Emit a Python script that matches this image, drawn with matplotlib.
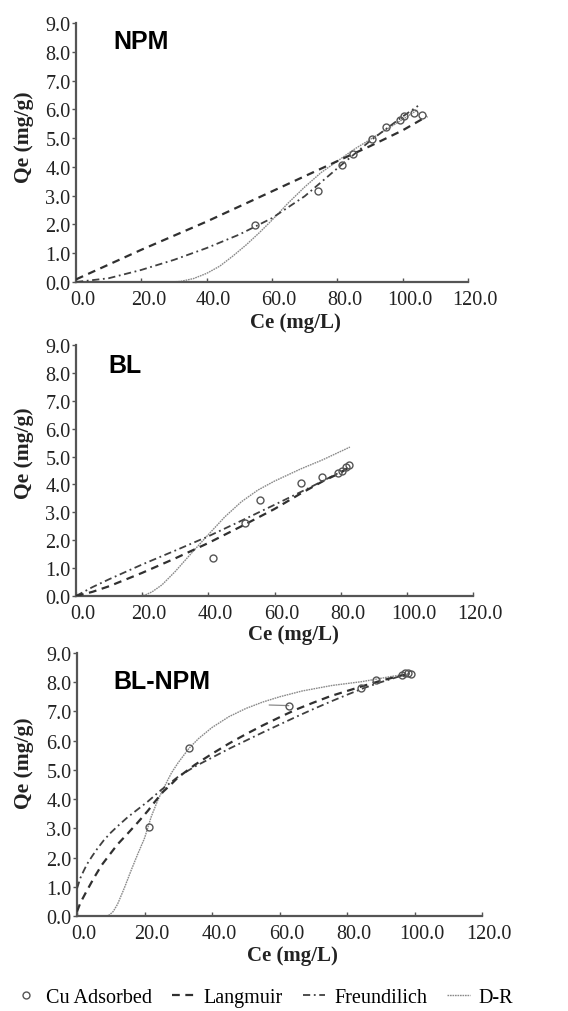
import matplotlib
matplotlib.use("Agg")
import matplotlib.pyplot as plt
from matplotlib.lines import Line2D
from matplotlib.transforms import ScaledTranslation

####################################################################################################
# Values (Ce in mg/L, Qe in mg/g)
####################################################################################################
# NPM
npm_ce = [54.8, 74.1, 81.4, 84.8, 90.5, 94.8, 99.3, 100.5, 103.6, 106.0]
npm_qe = [1.97, 3.16, 4.06, 4.44, 4.97, 5.38, 5.62, 5.78, 5.87, 5.80]
npm_lang_ce = [0.0, 20.0, 40.0, 60.0, 80.0, 90.0, 100.0, 107.5]
npm_lang_qe = [0.09, 1.12, 2.10, 3.15, 4.20, 4.72, 5.27, 5.76]
npm_freu_ce = [0.0, 10.0, 20.0, 30.0, 40.0, 50.0, 60.0, 70.0, 80.0, 90.0, 100.0, 104.7]
npm_freu_qe = [0.0, 0.13, 0.42, 0.77, 1.18, 1.65, 2.22, 2.98, 3.95, 4.90, 5.75, 6.12]
npm_dr_ce = [29.0, 32.0, 36.0, 40.0, 44.0, 48.0, 52.0, 56.0, 60.0, 65.0, 70.0, 75.0, 80.0, 85.0, 90.0, 95.0, 100.0, 104.5]
npm_dr_qe = [0.0, 0.02, 0.12, 0.30, 0.55, 0.90, 1.28, 1.70, 2.15, 2.75, 3.30, 3.80, 4.20, 4.60, 4.95, 5.30, 5.65, 5.98]

# BL
bl_ce = [41.3, 51.0, 55.7, 68.1, 74.3, 79.2, 80.3, 81.6, 82.5]
bl_qe = [1.35, 2.61, 3.45, 4.06, 4.25, 4.42, 4.50, 4.62, 4.70]
bl_lang_ce = [0.0, 5.0, 10.0, 20.0, 30.0, 40.0, 50.0, 60.0, 68.0, 75.0, 80.0, 82.8]
bl_lang_qe = [0.0, 0.15, 0.35, 0.83, 1.35, 1.90, 2.50, 3.12, 3.68, 4.14, 4.42, 4.64]
bl_freu_ce = [0.0, 5.0, 10.0, 20.0, 30.0, 40.0, 50.0, 60.0, 70.0, 80.0, 82.6]
bl_freu_qe = [0.0, 0.32, 0.60, 1.13, 1.63, 2.14, 2.70, 3.27, 3.85, 4.45, 4.60]
bl_dr_ce = [19.5, 21.0, 23.0, 26.0, 30.0, 35.0, 40.0, 45.0, 50.0, 55.0, 60.0, 68.0, 74.5, 82.8]
bl_dr_qe = [0.0, 0.04, 0.15, 0.40, 0.88, 1.55, 2.20, 2.84, 3.38, 3.80, 4.12, 4.56, 4.88, 5.34]

# BL-NPM
blnpm_ce = [21.2, 33.2, 62.7, 84.0, 88.5, 96.2, 97.2, 98.2, 99.0]
blnpm_qe = [3.06, 5.74, 7.19, 7.79, 8.08, 8.25, 8.30, 8.32, 8.29]
blnpm_lang_ce = [0.0, 1.0, 2.7, 5.0, 7.3, 10.0, 12.0, 15.0, 18.0, 21.0, 23.0, 25.5, 28.0, 30.0, 35.0,
                 40.0, 45.0, 50.0, 55.0, 60.0, 65.0, 70.0, 75.0, 80.0, 85.0, 90.0, 95.0, 98.6]
blnpm_lang_qe = [0.15, 0.45, 0.82, 1.30, 1.74, 2.15, 2.45, 2.82, 3.20, 3.60, 3.90, 4.25, 4.52, 4.75, 5.18,
                 5.55, 5.90, 6.22, 6.52, 6.80, 7.07, 7.30, 7.52, 7.70, 7.88, 8.05, 8.20, 8.30]
blnpm_freu_ce = [0.0, 1.0, 2.0, 3.0, 4.5, 6.0, 8.0, 10.0, 12.0, 15.0, 18.0, 21.0, 25.0, 30.0, 35.0,
                 40.0, 45.0, 50.0, 55.0, 60.0, 65.0, 70.0, 75.0, 80.0, 85.0, 90.0, 95.0, 98.6]
blnpm_freu_qe = [0.94, 1.30, 1.55, 1.78, 2.05, 2.30, 2.60, 2.85, 3.07, 3.38, 3.65, 3.92, 4.32, 4.77, 5.12,
                 5.42, 5.72, 6.00, 6.28, 6.55, 6.82, 7.08, 7.33, 7.57, 7.80, 8.00, 8.18, 8.30]
blnpm_dr_ce = [8.6, 9.5, 10.7, 12.0, 14.0, 16.0, 18.0, 20.0, 22.0, 24.0, 26.0, 28.0, 30.0, 33.2, 36.0,
               40.0, 45.0, 50.0, 55.0, 60.0, 66.7, 75.6, 84.4, 93.3, 98.6]
blnpm_dr_qe = [0.0, 0.03, 0.15, 0.40, 0.95, 1.55, 2.12, 2.66, 3.40, 3.98, 4.45, 4.90, 5.25, 5.74, 6.07,
               6.45, 6.82, 7.10, 7.32, 7.50, 7.70, 7.89, 8.02, 8.20, 8.29]
blnpm_bar_ce = [57.0, 62.7]
blnpm_bar_qe = [7.22, 7.20]

x_ticks = [0, 20, 40, 60, 80, 100, 120]
y_ticks = [0, 1, 2, 3, 4, 5, 6, 7, 8, 9]

SERIF = ['Liberation Serif', 'DejaVu Serif']
SANS = ['Liberation Sans', 'DejaVu Sans']
GREY = '#555555'

####################################################################################################
fig = plt.figure(figsize=(5.68, 10.12), dpi=100)


def draw_panel(rect, ce, qe, lang, freu, dr, title, title_xy, xlab_xy, ylab_xy):
    ax = fig.add_axes(rect)
    ax.plot(dr[0], dr[1], color='#8a8a8a', lw=1.0, linestyle=(0, (1.2, 0.6)), zorder=2)
    ax.plot(freu[0], freu[1], color='#404040', lw=1.3, linestyle=(0, (4, 2, 1, 2)), zorder=3)
    ax.plot(lang[0], lang[1], color='#303030', lw=1.6, linestyle=(0, (3.5, 2.5)), zorder=3)
    ax.plot(ce, qe, 'o', ms=5, mfc='none', mec=GREY, mew=1.0, zorder=4)

    ax.set_xlim(0, 120)
    ax.set_ylim(0, 9)
    ax.set_xticks(x_ticks, labels=['%.1f' % v for v in x_ticks])
    ax.set_yticks(y_ticks, labels=['%.1f' % v for v in y_ticks])
    for s in ['top', 'right']:
        ax.spines[s].set_visible(False)
    for s in ['left', 'bottom']:
        ax.spines[s].set_color(GREY)
        ax.spines[s].set_linewidth(1.6)
    ax.tick_params(axis='y', direction='out', length=3, width=1, color=GREY, pad=1,
                   labelsize=14.5, labelcolor='#222222')
    ax.tick_params(axis='x', direction='in', length=3, width=1, color=GREY, pad=6,
                   labelsize=14.5, labelcolor='#222222')
    for lbl in ax.get_xticklabels() + ax.get_yticklabels():
        lbl.set_family(SERIF)
    for lbl in ax.get_xticklabels():
        lbl.set_transform(lbl.get_transform() + ScaledTranslation(0.07, 0, fig.dpi_scale_trans))

    ax.set_xlabel('Ce (mg/L)', family=SERIF, fontweight='bold', fontsize=15, color='#222222')
    ax.set_ylabel('Qe (mg/g)', family=SERIF, fontweight='bold', fontsize=15.5, color='#222222')
    ax.xaxis.set_label_coords(*xlab_xy)
    ax.yaxis.set_label_coords(*ylab_xy)
    ax.text(title_xy[0], title_xy[1], title, family=SANS, fontweight='bold', fontsize=18,
            ha='left', va='center', color='black')
    return ax


draw_panel([76 / 568, 1 - 283 / 1012, 392 / 568, 259 / 1012],
           npm_ce, npm_qe, (npm_lang_ce, npm_lang_qe), (npm_freu_ce, npm_freu_qe),
           (npm_dr_ce, npm_dr_qe), 'NPM', (11.3, 8.37), (0.56, -0.114), (-0.107, 0.564))

draw_panel([76 / 568, 1 - 597 / 1012, 397 / 568, 251 / 1012],
           bl_ce, bl_qe, (bl_lang_ce, bl_lang_qe), (bl_freu_ce, bl_freu_qe),
           (bl_dr_ce, bl_dr_qe), 'BL', (9.7, 8.3), (0.547, -0.11), (-0.106, 0.574))

ax3 = draw_panel([77 / 568, 1 - 917 / 1012, 405 / 568, 263 / 1012],
                 blnpm_ce, blnpm_qe, (blnpm_lang_ce, blnpm_lang_qe), (blnpm_freu_ce, blnpm_freu_qe),
                 (blnpm_dr_ce, blnpm_dr_qe), 'BL-NPM', (10.7, 8.05), (0.533, -0.11), (-0.106, 0.586))
ax3.plot(blnpm_bar_ce, blnpm_bar_qe, color='#8a8a8a', lw=0.9, zorder=3)

# Legend along the bottom
handles = [
    Line2D([], [], marker='o', ls='none', ms=5, mfc='none', mec=GREY, mew=1.0),
    Line2D([], [], color='#303030', lw=1.6, linestyle=(0, (3.5, 2.5))),
    Line2D([], [], color='#404040', lw=1.3, linestyle=(0, (4, 2, 1, 2))),
    Line2D([], [], color='#8a8a8a', lw=1.0, linestyle=(0, (1.2, 0.6))),
]
labels = ['Cu Adsorbed', 'Langmuir', 'Freundilich', 'D-R']
fig.legend(handles, labels, loc='center', bbox_to_anchor=(0.465, 0.013), ncol=4,
           frameon=False, handlelength=1.1, handletextpad=0.45, columnspacing=1.0,
           prop={'family': SERIF, 'size': 14.5}, borderpad=0, borderaxespad=0)

fig.savefig('out.png', dpi=100)
